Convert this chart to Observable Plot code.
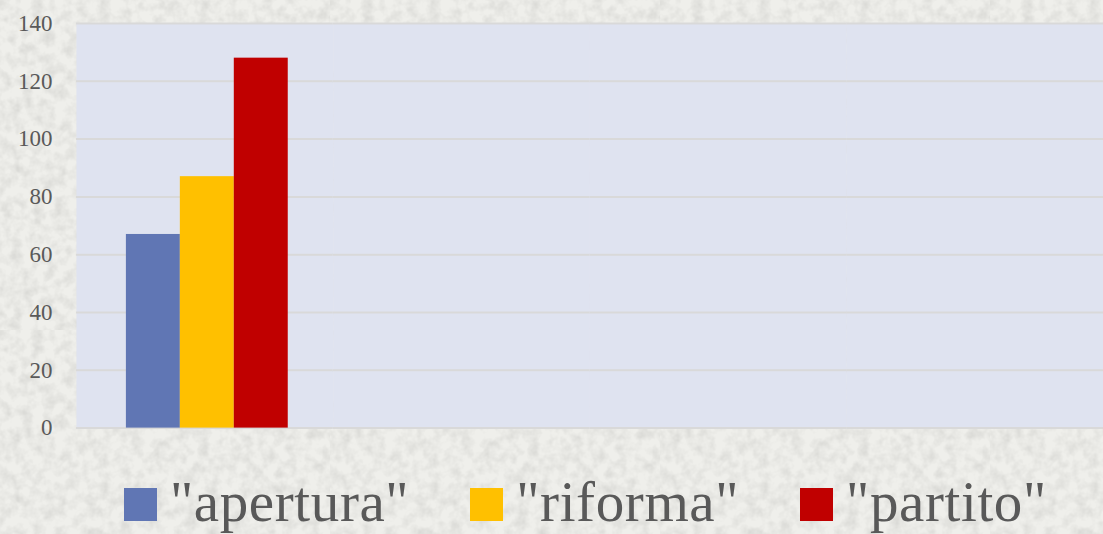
<!DOCTYPE html>
<html>
<head>
<meta charset="utf-8">
<script src="https://cdn.jsdelivr.net/npm/d3@7"></script>
<script src="https://cdn.jsdelivr.net/npm/@observablehq/plot@0.6"></script>
<style>
  html, body { margin: 0; padding: 0; width: 1103px; height: 534px; overflow: hidden; }
  body {
    background-color: #ebebe7;
    background-image: url("data:image/svg+xml;utf8,<svg xmlns='http://www.w3.org/2000/svg' width='330' height='330'><filter id='n'><feTurbulence type='fractalNoise' baseFrequency='0.09' numOctaves='3' seed='4' stitchTiles='stitch'/><feColorMatrix values='0 0 0 0 0.5  0 0 0 0 0.5  0 0 0 0 0.48  0.8 0 0 0 -0.3'/></filter><rect width='100%' height='100%' fill='%23efefeb'/><rect width='100%' height='100%' filter='url(%23n)'/></svg>");
    font-family: "Liberation Serif", serif;
  }
  #chart { width: 1103px; overflow: hidden; }
  #chart svg { display: block; }
  #legend {
    display: flex; gap: 61px; padding-left: 124px; margin-top: 35px;
    font-size: 57px; line-height: 54px; letter-spacing: 0.6px; color: #595959; white-space: nowrap;
  }
  #legend .item { display: flex; align-items: baseline; }
  #legend .sw { display: inline-block; width: 33px; height: 33px; margin-right: 13px; }
</style>
</head>
<body>
<div id="chart"></div>
<div id="legend"></div>
<script>
const categories = ["1", "2", "3", "4"];
const series = ['"apertura"', '"riforma"', '"partito"'];
// values per series for category "1"; other categories have no data (null)
const values = [67, 87, 128];
const colors = ["#6076b4", "#ffc000", "#c00000"];
const yTicks = [0, 20, 40, 60, 80, 100, 120, 140];

const data = categories.flatMap((c, ci) =>
  series.map((s, i) => ({cat: c, series: s, value: ci === 0 ? values[i] : null}))
);

const chart = Plot.plot({
  width: 1104,
  height: 440,
  marginLeft: 76,
  marginRight: 0,
  marginTop: 23,
  marginBottom: 12,
  style: {background: "transparent", fontFamily: "'Liberation Serif', serif", fontSize: "23px", color: "#595959"},
  fx: {domain: categories, padding: 0, axis: null},
  x: {domain: series, paddingInner: 0, paddingOuter: 0.865, align: 0.53, axis: null},
  y: {domain: [0, 140], axis: null},
  color: {domain: series, range: colors},
  marks: [
    Plot.frame({fill: "#dfe3f0", stroke: null}),
    Plot.ruleY(yTicks, {stroke: "#d9d9d9", strokeWidth: 2}),
    Plot.barY(data, {fx: "cat", x: "series", y: "value", fill: "series"}),
    Plot.axisY({ticks: yTicks, tickSize: 0, tickPadding: 24, label: null, fill: "#595959"})
  ]
});
document.getElementById("chart").appendChild(chart);

const legend = document.getElementById("legend");
series.forEach((s, i) => {
  const item = document.createElement("div");
  item.className = "item";
  const sw = document.createElement("span");
  sw.className = "sw";
  sw.style.background = colors[i];
  const t = document.createElement("span");
  t.textContent = s;
  item.appendChild(sw);
  item.appendChild(t);
  legend.appendChild(item);
});
</script>
</body>
</html>
